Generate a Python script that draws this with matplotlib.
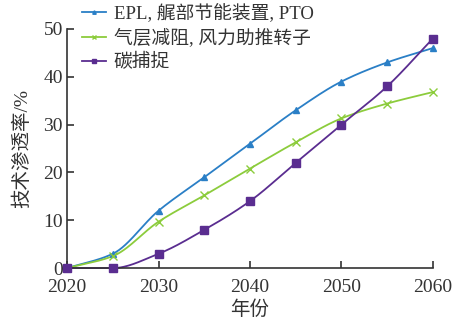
import numpy as np
import matplotlib.pyplot as plt

plt.rcParams['font.family'] = ['Liberation Serif', 'Noto Sans CJK SC']

years = [2020, 2025, 2030, 2035, 2040, 2045, 2050, 2055, 2060]
epl = [0, 3, 12, 19, 26, 33, 39, 43, 46]
air = [0, 2.5, 9.7, 15.2, 20.8, 26.3, 31.3, 34.4, 36.8]
ccs = [0, 0, 3, 8, 14, 22, 30, 38, 48]
labels = ['EPL, 艉部节能装置, PTO', '气层减阻, 风力助推转子', '碳捕捉']
colors = ['#2a7fc6', '#8ccc3c', '#5a2d90']
markers = ['^', 'x', 's']


def smooth(x, y, n=30):
    # monotone cubic (Fritsch-Carlson) curve through the points
    x = np.asarray(x, float)
    y = np.asarray(y, float)
    h = np.diff(x)
    d = np.diff(y) / h
    m = np.zeros_like(y)
    m[0], m[-1] = d[0], d[-1]
    for i in range(1, len(x) - 1):
        if d[i - 1] * d[i] <= 0:
            m[i] = 0
        else:
            w1 = 2 * h[i] + h[i - 1]
            w2 = h[i] + 2 * h[i - 1]
            m[i] = (w1 + w2) / (w1 / d[i - 1] + w2 / d[i])
    xs, ys = [], []
    t = np.linspace(0, 1, n)
    for i in range(len(x) - 1):
        h00 = 2 * t ** 3 - 3 * t ** 2 + 1
        h10 = t ** 3 - 2 * t ** 2 + t
        h01 = -2 * t ** 3 + 3 * t ** 2
        h11 = t ** 3 - t ** 2
        xs.extend(x[i] + t * h[i])
        ys.extend(h00 * y[i] + h10 * h[i] * m[i] + h01 * y[i + 1] + h11 * h[i] * m[i + 1])
    return xs, ys


fig = plt.figure(figsize=(4.63, 3.18), dpi=100)
ax = fig.add_axes([0.145, 0.157, 0.79, 0.752])

msizes = [5, 6, 6]
for vals, lab, c, m, ms in zip([epl, air, ccs], labels, colors, markers, msizes):
    sx, sy = smooth(years, vals)
    ax.plot(sx, sy, color=c, lw=1.3, clip_on=False)
    ax.plot(years, vals, linestyle='none', marker=m, color=c, ms=ms,
            mew=1.0, clip_on=False, zorder=3)
    ax.plot([], [], color=c, lw=1.3, marker=m, ms=2.5, label=lab)

ax.set_xlim(2020, 2060)
ax.set_ylim(0, 50)
ax.set_xticks([2020, 2030, 2040, 2050, 2060])
ax.set_yticks([0, 10, 20, 30, 40, 50])
ax.spines['top'].set_visible(False)
ax.spines['right'].set_visible(False)
for s in ['left', 'bottom']:
    ax.spines[s].set_linewidth(1.2)
    ax.spines[s].set_color('#333333')
ax.tick_params(direction='in', length=5, width=1.2, labelsize=14,
               colors='#333333')
ax.tick_params(axis='y', pad=3)
ax.tick_params(axis='x', pad=8)
ax.set_xlabel('年份', fontsize=14, labelpad=3, color='#333333')
ax.set_ylabel('技术渗透率/%', fontsize=14, labelpad=9, color='#333333')

leg = ax.legend(loc='upper left', bbox_to_anchor=(0.02, 1.135), frameon=False,
                fontsize=13.5, handlelength=1.3, handletextpad=0.4,
                labelspacing=0.3, borderaxespad=0)
for t in leg.get_texts():
    t.set_color('#333333')

fig.savefig('out.png', dpi=100)
